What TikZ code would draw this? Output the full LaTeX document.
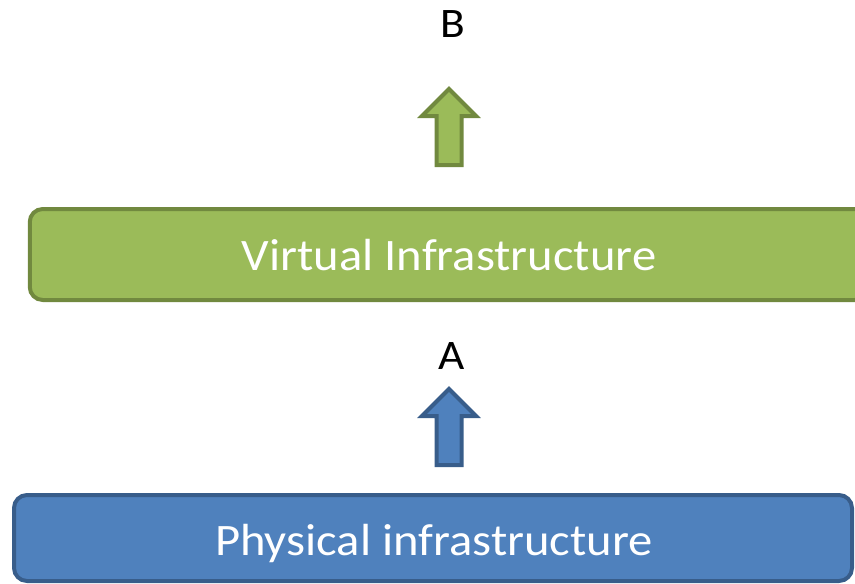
\documentclass[tikz,border=0pt]{standalone}
\usepackage{fontspec}
\setmainfont{Carlito}
\definecolor{vgreen}{HTML}{9BBB59}
\definecolor{vgreendark}{HTML}{71893F}
\definecolor{pblue}{HTML}{4F81BD}
\definecolor{pbluedark}{HTML}{385D8A}
\begin{document}
\begin{tikzpicture}[x=1pt,y=-1pt]
  \tikzstyle{couche}=[rectangle, rounded corners=13pt, line width=4pt,
  text=white, inner sep=0pt]
  \tikzstyle{texte}=[text=white, inner sep=0pt, anchor=base, xscale=1.08,
  font=\fontsize{45}{49}\selectfont]
  \tikzstyle{fleche}=[line width=4pt, line join=miter]
  \tikzstyle{etiquette}=[text=black, inner sep=0pt, anchor=base, xscale=1.08,
  font=\fontsize{42}{46}\selectfont]
  \useasboundingbox (0,0) rectangle (855,584);
  \clip (0,0) rectangle (855,584);
  % couches
  \node[couche, draw=vgreendark, fill=vgreen, minimum width=838pt,
  minimum height=91pt] (virt) at (448.75,254.5) {};
  \node[couche, draw=pbluedark, fill=pblue, minimum width=838pt,
  minimum height=86pt] (phys) at (433,538) {};
  \node[texte] (virtT) at (449,270) {Virtual Infrastructure};
  \node[texte] (physT) at (434,555) {Physical infrastructure};
  % fleches
  \foreach \n/\y/\c/\d in {flB/165/vgreen/vgreendark,flA/465/pblue/pbluedark} {
    \draw[fleche, fill=\c, draw=\d] (449,\y) coordinate (\n)
    -- ++(12.5,0) -- ++(0,-49) -- ++(14.5,0) -- ++(-27,-27)
    -- ++(-27,27) -- ++(14.5,0) -- ++(0,49) -- cycle;
  }
  % etiquettes
  \node[etiquette] (labB) at (452.5,37) {B};
  \node[etiquette] (labA) at (451.5,369) {A};
\end{tikzpicture}
\end{document}
